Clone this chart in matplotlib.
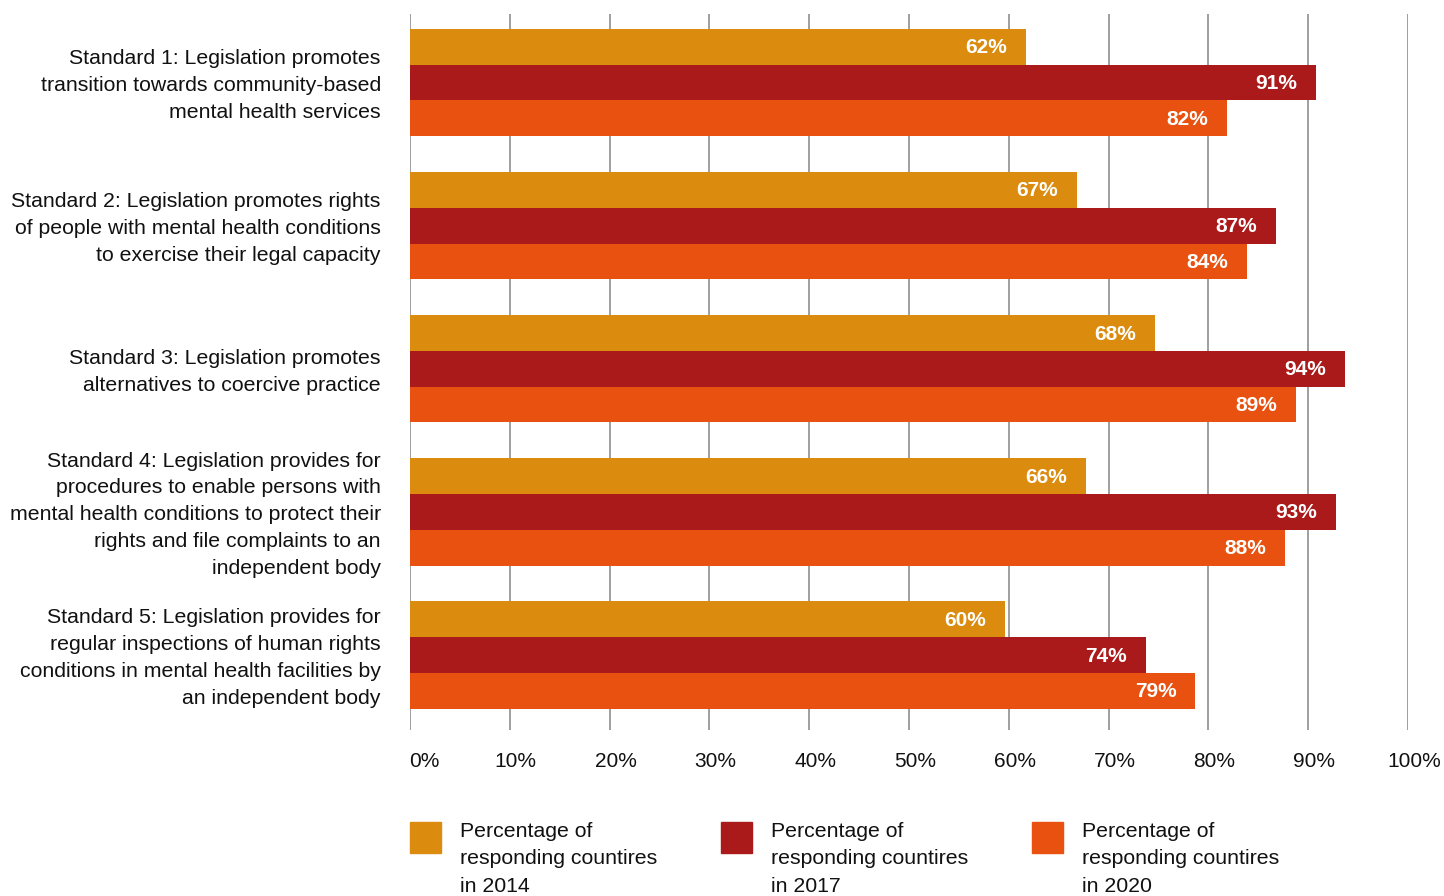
import matplotlib.pyplot as plt
from matplotlib.patches import Rectangle
from matplotlib.transforms import offset_copy, ScaledTranslation

plt.rcParams['font.family'] = ['Liberation Sans', 'DejaVu Sans']

# categories (top to bottom)
standards = [
    "Standard 1: Legislation promotes\ntransition towards community-based\nmental health services",
    "Standard 2: Legislation promotes rights\nof people with mental health conditions\nto exercise their legal capacity",
    "Standard 3: Legislation promotes\nalternatives to coercive practice",
    "Standard 4: Legislation provides for\nprocedures to enable persons with\nmental health conditions to protect their\nrights and file complaints to an\nindependent body",
    "Standard 5: Legislation provides for\nregular inspections of human rights\nconditions in mental health facilities by\nan independent body",
]

# bar lengths as drawn in the picture (%)
vals_2014 = [61.7, 66.8, 74.6, 67.7, 59.6]
vals_2017 = [90.8, 86.8, 93.7, 92.8, 73.7]
vals_2020 = [81.9, 83.9, 88.8, 87.7, 78.7]

# labels printed inside the bars
labels_2014 = ["62%", "67%", "68%", "66%", "60%"]
labels_2017 = ["91%", "87%", "94%", "93%", "74%"]
labels_2020 = ["82%", "84%", "89%", "88%", "79%"]

legend_texts = [
    "Percentage of\nresponding countires\nin 2014",
    "Percentage of\nresponding countires\nin 2017",
    "Percentage of\nresponding countires\nin 2020",
]
colors = ['#DB8C0F', '#AA1A1A', '#E8510F']

W, H = 1444, 896
fig = plt.figure(figsize=(W / 100, H / 100), dpi=100)
ax = fig.add_axes([410 / W, 1 - 730 / H, 998 / W, 716 / H])

series = [(vals_2014, labels_2014), (vals_2017, labels_2017), (vals_2020, labels_2020)]
offsets = [-0.25, 0, 0.25]
bh = 0.25
for (vals, labs), off, col in zip(series, offsets, colors):
    for i, (v, lab) in enumerate(zip(vals, labs)):
        ax.barh(i + off, v, height=bh, color=col, zorder=2)
        tr = offset_copy(ax.transData, fig=fig, x=-19, y=-1, units='dots')
        ax.text(v, i + off, lab, transform=tr, ha='right', va='center',
                color='white', fontsize=15, fontweight='bold', zorder=3)

ax.set_xlim(0, 100)
ax.set_ylim(4.524, -0.479)
ax.set_xticks(range(0, 101, 10))
ax.set_xticklabels([f"{t}%" for t in range(0, 101, 10)], fontsize=15, color='#111111')
ax.set_yticks(range(len(standards)))
ax.set_yticklabels(standards, fontsize=15.3, color='#111111', linespacing=1.52)
ax.tick_params(axis='both', length=0)
ax.tick_params(axis='x', pad=16)
ax.tick_params(axis='y', pad=21)

# tick labels sit a little to the right of their gridlines
for j, lbl in enumerate(ax.get_xticklabels()):
    dx = 14 if j == 0 else 6
    lbl.set_transform(lbl.get_transform() + ScaledTranslation(dx / 100, 0, fig.dpi_scale_trans))
# category labels a touch higher
for lbl in ax.get_yticklabels():
    lbl.set_transform(lbl.get_transform() + ScaledTranslation(0, 3 / 100, fig.dpi_scale_trans))

ax.xaxis.grid(True, color='#8f8f8f', linewidth=1.2, zorder=0)
ax.set_axisbelow(True)
for s in ax.spines.values():
    s.set_visible(False)

# legend at bottom
for k, (txt, col) in enumerate(zip(legend_texts, colors)):
    x0 = 410 + k * 311
    fig.add_artist(Rectangle((x0 / W, 1 - 853 / H), 31 / W, 31 / H,
                             transform=fig.transFigure, color=col))
    fig.text((x0 + 50) / W, 1 - 822 / H, txt, ha='left', va='top',
             fontsize=15.3, color='#111111', linespacing=1.56)

plt.savefig('out.png', dpi=100)
